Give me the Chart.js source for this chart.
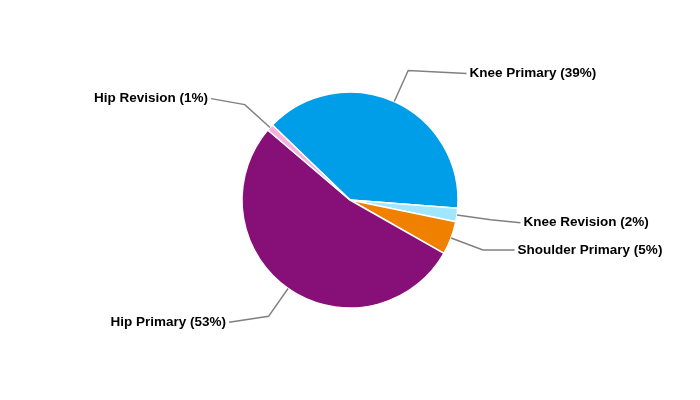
<!DOCTYPE html>
<html>
<head>
<meta charset="utf-8">
<script src="https://cdn.jsdelivr.net/npm/chart.js@4"></script>
<style>
  html, body { margin: 0; padding: 0; background: #fff; }
  #wrap { width: 700px; height: 400px; }
</style>
</head>
<body>
<div id="wrap"><canvas id="myChart" width="700" height="400"></canvas></div>
<script>
// Kategorien und Anteile (%)
const labels = ["Knee Primary", "Knee Revision", "Shoulder Primary", "Hip Primary", "Hip Revision"];
const shares = [39, 2, 5, 53, 1];
const colors = ["#009ee8", "#a0e6ff", "#f08000", "#870f78", "#f5b0e0"];

// Beschriftungen mit Verbindungslinien
const leaderLabels = {
    id: "leaderLabels",
    afterDraw(chart, args, opts) {
        const ctx = chart.ctx;
        const meta = chart.getDatasetMeta(0);
        const shiftY = opts.shiftY || [];
        ctx.save();
        ctx.font = "bold 13.5px 'Liberation Sans', Arial, sans-serif";
        ctx.textBaseline = "middle";
        meta.data.forEach((arc, i) => {
            const p = arc.getProps(["x", "y", "startAngle", "endAngle", "outerRadius"], true);
            const mid = (p.startAngle + p.endAngle) / 2;
            const r = p.outerRadius;
            const sx = p.x + Math.cos(mid) * r;
            const sy = p.y + Math.sin(mid) * r;
            const ex = p.x + Math.cos(mid) * (r + 34);
            const ey = p.y + Math.sin(mid) * (r + 34);
            const right = Math.cos(mid) >= 0;
            const ly = ey + (shiftY[i] || 0);
            const R = r + 64;
            const dy = ly - p.y;
            const dx = Math.sqrt(Math.max(R * R - dy * dy, 0));
            const lx = right ? p.x + dx : p.x - dx;

            ctx.strokeStyle = "#808080";
            ctx.lineWidth = 1.5;
            ctx.beginPath();
            ctx.moveTo(sx, sy);
            ctx.lineTo(ex, ey);
            ctx.lineTo(lx, ly);
            ctx.stroke();

            ctx.fillStyle = "#000";
            ctx.textAlign = right ? "left" : "right";
            const text = labels[i] + " (" + shares[i] + "%)";
            ctx.fillText(text, right ? lx + 3 : lx - 3, ly);
        });
        ctx.restore();
    }
};

const ctx = document.getElementById("myChart").getContext("2d");

new Chart(ctx, {
    type: "pie",
    data: {
        labels: labels,
        datasets: [
            {
                data: shares,
                backgroundColor: colors,
                borderColor: "#ffffff",
                borderWidth: 1.5,
                radius: 108
            }
        ]
    },
    options: {
        responsive: false,
        animation: false,
        rotation: -46,
        plugins: {
            legend: { display: false },
            tooltip: { enabled: false },
            leaderLabels: { shiftY: [3, 3, 0, 6, -6] }
        }
    },
    plugins: [leaderLabels]
});
</script>
</body>
</html>
